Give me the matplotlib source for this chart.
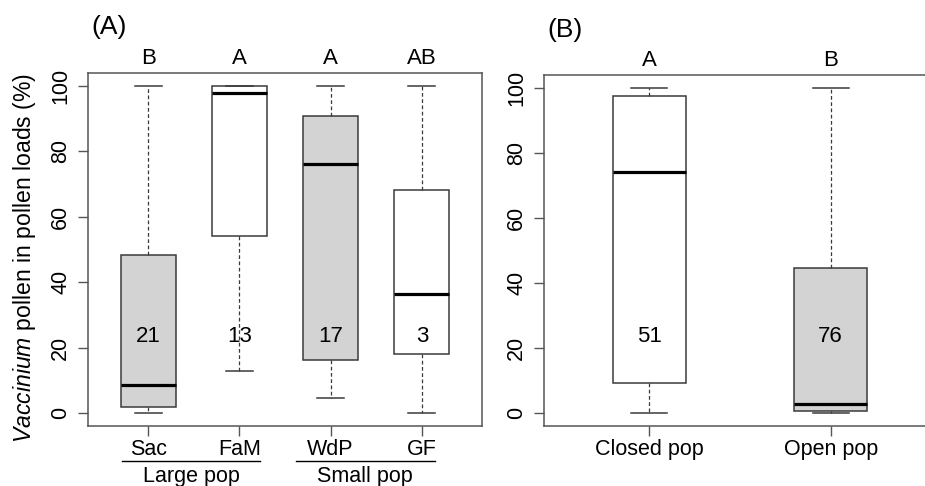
import matplotlib
matplotlib.use("Agg")
import matplotlib.pyplot as plt
from matplotlib.transforms import blended_transform_factory

plt.rcParams['font.family'] = ['Liberation Sans', 'DejaVu Sans']
plt.rcParams['mathtext.fontset'] = 'custom'
plt.rcParams['mathtext.it'] = 'Liberation Sans:italic'
plt.rcParams['mathtext.rm'] = 'Liberation Sans'

# ---- Data (panel A) ----
sites_a = ["Sac", "FaM", "WdP", "GF"]
whislo_a = [0, 12.9, 4.5, 0]
q1_a = [1.8, 54.1, 16.3, 18.1]
med_a = [8.6, 98.0, 76.1, 36.4]
q3_a = [48.4, 100, 90.7, 68.1]
whishi_a = [100, 100, 100, 100]
n_a = ["21", "13", "17", "3"]
letters_a = ["B", "A", "A", "AB"]
fill_a = ["#d3d3d3", "white", "#d3d3d3", "white"]
groups_a = ["Large pop", "Small pop"]

# ---- Data (panel B) ----
sites_b = ["Closed pop", "Open pop"]
whislo_b = [0, 0]
q1_b = [9.3, 0.7]
med_b = [74.2, 2.8]
q3_b = [97.6, 44.6]
whishi_b = [100, 100]
n_b = ["51", "76"]
letters_b = ["A", "B"]
fill_b = ["white", "#d3d3d3"]

FS = 15.5
LC = "#3a3a3a"
SC = "#555555"

fig = plt.figure(figsize=(9.25, 4.86), dpi=100)
axA = fig.add_axes([88/925, 60/486, (482-88)/925, (426-73)/486])
axB = fig.add_axes([544/925, 60/486, (936-544)/925, (426-75)/486])


def draw(ax, labels, lo, q1, med, q3, hi, ns, letters, fills, width, xlim):
    stats = []
    for i in range(len(labels)):
        stats.append(dict(label=labels[i], whislo=lo[i], q1=q1[i], med=med[i],
                          q3=q3[i], whishi=hi[i], fliers=[]))
    pos = list(range(1, len(labels) + 1))
    bp = ax.bxp(stats, positions=pos, widths=width, patch_artist=True,
                showfliers=False, capwidths=width / 2,
                boxprops=dict(edgecolor=LC, linewidth=1.1),
                medianprops=dict(color="black", linewidth=2.3, solid_capstyle="butt"),
                whiskerprops=dict(color=LC, linewidth=0.9, linestyle=(0, (3, 2))),
                capprops=dict(color=LC, linewidth=1.1))
    for patch, fc in zip(bp["boxes"], fills):
        patch.set_facecolor(fc)
    ax.set_xlim(*xlim)
    ax.set_ylim(-4, 104)
    ax.set_yticks([0, 20, 40, 60, 80, 100])
    ax.set_xticks(pos)
    ax.set_xticklabels(labels, fontsize=FS)
    for lab in ax.get_yticklabels():
        lab.set_rotation(90)
        lab.set_va("center")
        lab.set_fontsize(FS)
    ax.tick_params(axis="y", length=7, width=1, color=SC, pad=5)
    ax.tick_params(axis="x", length=7, width=1, color=SC, pad=2)
    for sp in ax.spines.values():
        sp.set_color(SC)
        sp.set_linewidth(1.1)
    trans = blended_transform_factory(ax.transData, ax.transAxes)
    for p, t in zip(pos, letters):
        ax.text(p, 1.04, t, transform=trans, ha="center", va="center", fontsize=FS + 0.5)
    for p, t in zip(pos, ns):
        ax.text(p, 23.5, t, ha="center", va="center", fontsize=FS + 0.5)


draw(axA, sites_a, whislo_a, q1_a, med_a, q3_a, whishi_a, n_a, letters_a, fill_a,
     0.6, (0.34, 4.66))
draw(axB, sites_b, whislo_b, q1_b, med_b, q3_b, whishi_b, n_b, letters_b, fill_b,
     0.4, (0.42, 2.58))

# group lines under panel A
transA = blended_transform_factory(axA.transData, axA.transAxes)
for (x0, x1), g in zip([(0.71, 2.23), (2.62, 4.14)], groups_a):
    axA.plot([x0, x1], [-0.099, -0.099], transform=transA, color="black",
             linewidth=1.0, clip_on=False)
    axA.text((x0 + x1) / 2, -0.142, g, transform=transA, ha="center", va="center",
             fontsize=FS)

fig.text(25/925, (486-258)/486, r"$\it{Vaccinium}$ pollen in pollen loads (%)",
         rotation=90, ha="center", va="center", fontsize=16.6)
fig.text(109/925, (486-27)/486, "(A)", ha="center", va="center", fontsize=19)
fig.text(565/925, (486-30)/486, "(B)", ha="center", va="center", fontsize=19)

fig.savefig("out.png", dpi=100)
